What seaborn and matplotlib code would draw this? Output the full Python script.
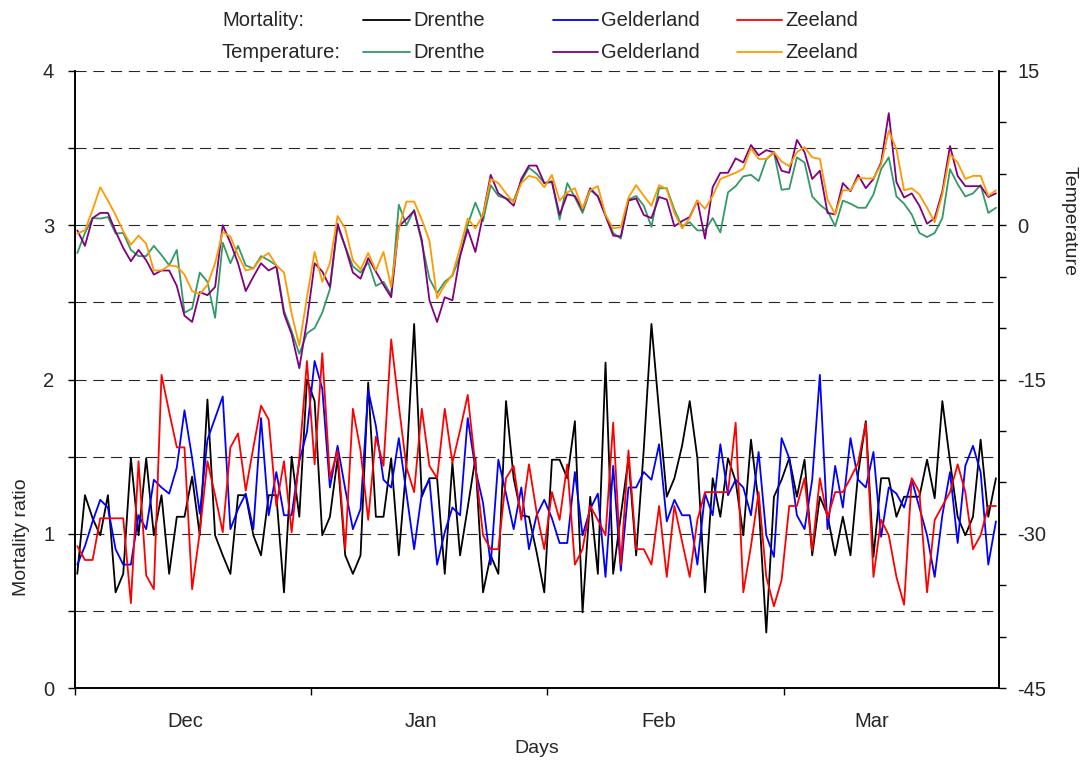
import numpy as np
import pandas as pd
import matplotlib
matplotlib.use('Agg')
import matplotlib.pyplot as plt
from matplotlib.lines import Line2D
from matplotlib.ticker import MultipleLocator
import seaborn as sns

regions = ['Drenthe', 'Gelderland', 'Zeeland']
months = ['Dec', 'Jan', 'Feb', 'Mar']
month_ticks = [-0.3, 30.5, 61.4, 92.3]
month_mid = [14.1, 44.9, 76.0, 103.8]

# mortality ratio, one value per day (Dec 1 .. Mar 31)
mort_drenthe = [0.74, 1.25, 1.1, 0.99, 1.25, 0.62, 0.74, 1.49, 0.99, 1.49, 0.99, 1.25, 0.74, 1.11, 1.11, 1.37,
                0.99, 1.87, 0.99, 0.86, 0.74, 1.25, 1.25, 0.99, 0.86, 1.25, 1.25, 0.62, 1.5, 1.11, 2.0,
                1.86, 0.99, 1.11, 1.49, 0.86, 0.74, 0.86, 1.98, 1.11, 1.11, 1.49, 0.86, 1.45, 2.36, 1.24, 1.36,
                1.36, 0.74, 1.46, 0.86, 1.17, 1.49, 0.62, 0.86, 0.74, 1.86, 1.36, 1.12, 1.11, 0.88, 0.62,
                1.48, 1.48, 1.36, 1.73, 0.49, 1.24, 0.74, 2.11, 0.74, 1.12, 1.49, 0.86, 1.55, 2.36, 1.79, 1.24,
                1.36, 1.57, 1.86, 1.49, 0.62, 1.36, 1.11, 1.49, 1.34, 0.99, 1.61, 1.2, 0.36, 1.24, 1.35, 1.49,
                1.24, 1.48, 0.86, 1.24, 1.12, 0.86, 1.11, 0.86, 1.39, 1.73, 0.85, 1.36, 1.36, 1.11, 1.24, 1.24,
                1.24, 1.48, 1.23, 1.86, 1.47, 1.11, 0.99, 1.11, 1.61, 1.11, 1.36]
mort_gelderland = [0.80, 0.92, 1.08, 1.22, 1.17, 0.90, 0.80, 0.80, 1.12, 1.03, 1.35, 1.30, 1.26, 1.43, 1.80, 1.49,
                   1.13, 1.61, 1.75, 1.89, 1.03, 1.16, 1.26, 1.03, 1.75, 1.12, 1.40, 1.12, 1.12, 1.47, 1.66,
                   2.12, 1.94, 1.30, 1.57, 1.29, 1.03, 1.16, 1.93, 1.70, 1.35, 1.30, 1.62, 1.26, 0.90, 1.26, 1.35,
                   0.80, 1.01, 1.17, 1.12, 1.75, 1.42, 1.20, 0.80, 1.48, 1.26, 1.03, 1.30, 0.90, 1.12, 1.22,
                   1.10, 0.94, 0.94, 1.40, 0.99, 1.16, 1.26, 0.72, 1.44, 0.76, 1.30, 1.30, 1.40, 1.35, 1.58, 1.08,
                   1.22, 1.12, 1.12, 0.80, 1.26, 1.12, 1.58, 1.25, 1.35, 1.30, 1.12, 1.53, 0.99, 0.85, 1.62, 1.49,
                   1.12, 1.03, 1.35, 2.03, 1.03, 1.44, 1.17, 1.62, 1.35, 1.30, 1.53, 0.98, 1.30, 1.26, 1.17, 1.35,
                   1.17, 0.99, 0.72, 1.12, 1.40, 0.94, 1.44, 1.57, 1.40, 0.80, 1.08]
mort_zeeland = [0.92, 0.83, 0.83, 1.10, 1.10, 1.10, 1.10, 0.55, 1.47, 0.73, 0.64, 2.03, 1.79, 1.56, 1.56, 0.64,
                1.01, 1.47, 1.25, 1.01, 1.56, 1.65, 1.28, 1.56, 1.83, 1.74, 1.18, 1.47, 1.01, 1.49, 2.12,
                1.45, 2.17, 1.36, 1.54, 0.90, 1.81, 1.54, 1.09, 1.63, 1.44, 2.26, 1.83, 1.43, 1.27, 1.81, 1.44,
                1.36, 1.81, 1.46, 1.67, 1.90, 1.44, 0.99, 0.90, 0.90, 1.36, 1.44, 1.09, 1.45, 1.14, 0.90,
                1.27, 1.09, 1.45, 0.80, 0.90, 1.18, 1.09, 0.99, 1.72, 0.80, 1.54, 0.90, 0.90, 0.80, 1.18, 0.72,
                1.18, 0.95, 0.72, 1.09, 1.27, 1.27, 1.27, 1.27, 1.72, 0.62, 0.92, 1.27, 0.72, 0.53, 0.70, 1.18,
                1.18, 1.36, 0.89, 1.36, 1.10, 1.27, 1.27, 1.36, 1.46, 1.72, 0.72, 1.09, 0.99, 0.72, 0.54, 1.36,
                1.27, 0.62, 1.09, 1.18, 1.27, 1.45, 1.27, 0.90, 0.99, 1.18, 1.18]

# temperature, same days
temp_drenthe = [-2.7, -0.75, 0.7, 0.65, 0.8, -0.8, -0.75, -2.4, -3.0, -3.0, -2.0, -2.9, -3.9, -2.4, -8.5, -8.1,
                -4.6, -5.5, -9.0, -1.7, -3.7, -2.0, -3.9, -4.2, -3.0, -3.4, -3.9, -8.3, -10.3, -12.5, -10.5,
                -10.0, -8.5, -6.2, -0.1, -2.1, -4.0, -4.6, -3.6, -5.9, -5.5, -6.8, 2.0, 0.0, 1.5, -1.7, -5.2,
                -6.6, -5.5, -4.9, -3.0, 0.05, 2.2, 0.4, 3.9, 2.85, 2.6, 2.4, 4.3, 5.6, 5.0, 4.1,
                4.3, 0.55, 4.1, 2.7, 1.2, 3.4, 2.85, 1.0, -0.75, -1.3, 2.5, 2.85, 1.9, -0.15, 3.6, 3.6,
                1.5, -0.1, 0.3, -0.5, -0.5, 0.7, -0.7, 3.2, 3.8, 4.75, 4.9, 4.3, 6.4, 7.1, 3.45, 3.55,
                6.6, 6.1, 2.8, 2.0, 1.4, -0.1, 2.4, 2.1, 1.7, 1.7, 3.0, 5.45, 6.6, 2.8, 2.1, 1.05,
                -0.75, -1.15, -0.75, 0.7, 5.45, 4.0, 2.8, 3.1, 3.9, 1.2, 1.7]
temp_gelderland = [-0.5, -2.0, 0.7, 1.2, 1.2, -0.6, -2.2, -3.5, -2.4, -3.4, -4.8, -4.4, -4.4, -5.9, -8.8, -9.4,
                   -6.5, -6.8, -6.0, 0.0, -1.7, -3.7, -6.4, -5.0, -3.7, -4.4, -4.0, -8.6, -10.6, -13.9, -9.3,
                   -3.7, -4.5, -6.0, 0.15, -2.1, -4.6, -5.2, -3.2, -4.5, -5.8, -7.0, -0.1, 0.6, 1.4, -1.4, -7.3,
                   -9.4, -7.0, -7.3, -3.0, -0.4, -2.6, 1.0, 4.9, 3.1, 2.6, 1.9, 4.5, 5.8, 5.8, 4.1,
                   4.2, 1.0, 3.0, 2.85, 1.5, 3.6, 2.8, 0.9, -1.0, -1.1, 2.4, 2.6, 1.0, 0.7, 2.75, 2.5,
                   -0.1, 0.4, 0.8, 2.4, -1.3, 3.7, 5.1, 5.1, 6.5, 6.1, 7.8, 6.8, 7.3, 7.1, 5.3, 5.1,
                   8.3, 7.1, 4.5, 5.3, 1.2, 1.05, 4.1, 3.3, 4.9, 3.6, 4.5, 6.1, 10.9, 4.2, 2.7, 3.1,
                   1.9, 0.15, 0.7, 3.3, 7.7, 4.8, 3.8, 3.8, 3.8, 2.75, 3.1]
temp_zeeland = [-0.8, -0.5, 1.5, 3.7, 2.4, 1.0, -0.6, -1.9, -1.0, -1.8, -4.4, -4.4, -3.9, -4.0, -4.8, -6.4,
                -6.7, -5.8, -3.7, -0.65, -1.1, -2.9, -4.4, -4.2, -3.2, -2.7, -3.9, -4.6, -8.6, -11.7, -7.0,
                -2.6, -5.5, -3.7, 0.9, -0.3, -3.4, -4.3, -2.7, -4.4, -2.6, -6.0, -0.3, 2.3, 2.3, 0.55, -1.5,
                -7.1, -5.8, -4.8, -2.2, 0.65, -0.3, 1.0, 4.5, 4.1, 3.1, 2.2, 4.1, 4.8, 4.6, 3.7,
                4.9, 2.4, 3.2, 3.6, 1.6, 3.4, 3.8, 1.0, -0.3, -0.2, 2.7, 3.9, 2.85, 1.9, 3.9, 3.5,
                1.2, -0.3, 0.7, 2.4, 1.6, 2.85, 4.5, 4.8, 5.1, 5.5, 7.5, 6.45, 6.45, 7.1, 6.2, 5.75,
                7.1, 7.6, 6.6, 6.45, 2.5, 1.05, 3.4, 3.4, 4.6, 4.55, 4.55, 5.9, 9.2, 7.4, 3.4, 3.6,
                3.0, 1.7, 0.3, 3.0, 6.9, 6.1, 4.5, 4.8, 4.8, 2.85, 3.4]

mort_colors = ['#000000', '#0000ff', '#ff0000']
temp_colors = ['#339966', '#800080', '#ff9900']

days = np.arange(len(mort_drenthe))
mort = pd.DataFrame({'day': np.tile(days, 3),
                     'value': mort_drenthe + mort_gelderland + mort_zeeland,
                     'region': np.repeat(regions, len(days))})
temp = pd.DataFrame({'day': np.tile(days, 3),
                     'value': temp_drenthe + temp_gelderland + temp_zeeland,
                     'region': np.repeat(regions, len(days))})

sns.set_style('ticks')
plt.rcParams['font.family'] = ['Liberation Sans', 'DejaVu Sans']
plt.rcParams['axes.unicode_minus'] = False

W, H = 1085, 764
fig = plt.figure(figsize=(W / 100, H / 100), dpi=100)
ax = fig.add_axes([75 / W, 1 - 688 / H, 924 / W, 617 / H])
ax2 = ax.twinx()

sns.lineplot(data=mort, x='day', y='value', hue='region', hue_order=regions,
             palette=mort_colors, linewidth=1.3, ax=ax, legend=False)
sns.lineplot(data=temp, x='day', y='value', hue='region', hue_order=regions,
             palette=temp_colors, linewidth=1.3, ax=ax2, legend=False)

ax.set_xlim(-0.3, 120.4)
ax.set_ylim(0, 4)
ax2.set_ylim(-45, 15)

ax.set_yticks([0, 1, 2, 3, 4])
ax.yaxis.set_minor_locator(MultipleLocator(0.5))
ax.yaxis.grid(True, which='both', color='#262626', linestyle=(0, (10, 6)), linewidth=0.8)
ax.xaxis.grid(False)
ax.set_axisbelow(True)

ax.set_xticks(month_ticks)
ax.set_xticklabels([])
ax.set_xticks(month_mid, minor=True)
ax.set_xticklabels(months, minor=True)
ax.tick_params(axis='x', which='major', length=5, width=1, direction='out', color='black')
ax.tick_params(axis='x', which='minor', length=0, pad=17, labelsize=14.5)
ax.tick_params(axis='y', which='both', length=5, width=1, direction='out', color='black',
               labelsize=14.5, pad=10)

ax2.set_yticks([-45, -30, -15, 0, 15])
ax2.yaxis.set_minor_locator(MultipleLocator(5))
ax2.tick_params(axis='y', which='both', length=5, width=1, direction='out', color='black',
                labelsize=14.5, pad=8)
ax2.grid(False)

for a in (ax, ax2):
    a.spines['top'].set_visible(False)
    for s in ('left', 'right', 'bottom'):
        a.spines[s].set_color('black')
        a.spines[s].set_linewidth(1.2)

ax.set_xlabel('Days', fontsize=14)
ax.xaxis.set_label_coords(0.5, -0.084)
ax.set_ylabel('Mortality ratio', fontsize=14)
ax.yaxis.set_label_coords(-0.049, 0.245)
ax2.set_ylabel('Temperature', fontsize=14, rotation=270, va='bottom')
ax2.yaxis.set_label_coords(1.067, 0.757)

# legend block above the plot
row_y = [20, 52]
row_names = ['Mortality:', 'Temperature:']
handle_x = [(363, 410), (553, 598), (737, 782)]
for r, (name, colors) in enumerate(zip(row_names, [mort_colors, temp_colors])):
    y = 1 - row_y[r] / H
    fig.text(222 / W, y, name, ha='left', va='center', fontsize=14.5)
    for (x0, x1), col, reg in zip(handle_x, colors, regions):
        fig.add_artist(Line2D([x0 / W, x1 / W], [y, y], color=col, linewidth=1.3))
        fig.text((x1 + 3) / W, y, reg, ha='left', va='center', fontsize=14.5)

fig.savefig('out.png', dpi=100)
